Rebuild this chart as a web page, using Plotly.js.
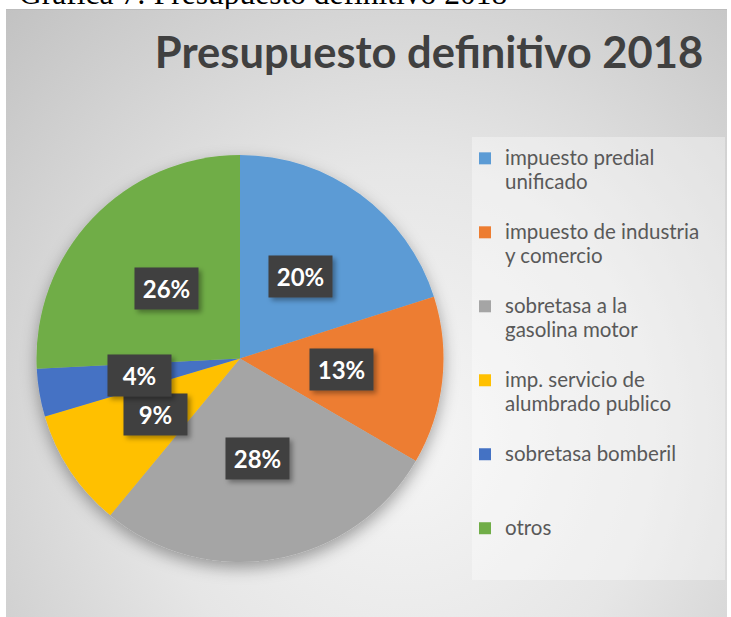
<!DOCTYPE html>
<html><head><meta charset="utf-8">
<script src="https://cdn.plot.ly/plotly-3.0.1.min.js"></script>
<style>
html,body{margin:0;padding:0;background:#fff;width:731px;height:617px;overflow:hidden;}
#cap{position:absolute;left:19px;top:-22px;font-family:"Liberation Serif","Times New Roman",serif;font-size:31.5px;line-height:31.5px;color:#000;white-space:nowrap;}
#frame{position:absolute;left:6px;top:9px;width:721px;height:608px;border-top:1px solid #bdbdbd;box-sizing:border-box;
background:radial-gradient(farthest-corner at 55% 70%, #f6f6f6 0%, #e6e6e6 45%, #c2c2c2 100%);}
#chart{position:absolute;left:0;top:0;width:721px;height:608px;}
</style></head><body>
<div id="cap">Gráfica 7: Presupuesto definitivo 2018</div>
<div id="frame"><div id="chart"></div></div>
<script>
const chartTitle = "Presupuesto definitivo 2018";
const categories = ["impuesto predial unificado", "impuesto de industria y comercio", "sobretasa a la gasolina motor", "imp. servicio de alumbrado publico", "sobretasa bomberil", "otros"];
const legendLines = [["impuesto predial", "unificado"], ["impuesto de industria", "y comercio"], ["sobretasa a la", "gasolina motor"], ["imp. servicio de", "alumbrado publico"], ["sobretasa bomberil"], ["otros"]];
const values = [20.1, 13.3, 27.6, 9.4, 3.8, 25.8];
const colors = ["#5B9BD5", "#ED7D31", "#A5A5A5", "#FFC000", "#4472C4", "#70AD47"];

const W = 721, H = 608;
const cx = 234, cy = 348.5, R = 203.5;
const domX = [(cx - R) / W, (cx + R) / W];
const domY = [1 - (cy + R) / H, 1 - (cy - R) / H];

// legend labels: three lines per entry so every entry takes the same height
const legendLabels = legendLines.map(lines => {
  const out = lines.map(t => '<span style="font-size:20.5px">' + t + '</span>');
  while (out.length < 3) out.push(' ');
  return out.join('<br>');
});

const total = values.reduce((a, b) => a + b, 0);
let cum = 0;
const annotations = values.map(v => {
  const mid = (cum + v / 2) / total * 2 * Math.PI;
  cum += v;
  return {
    xref: 'paper', yref: 'paper',
    x: (cx + 0.5 * R * Math.sin(mid)) / W,
    y: 1 - (cy - 0.5 * R * Math.cos(mid)) / H,
    xanchor: 'center', yanchor: 'middle',
    text: '<b>' + Math.round(v / total * 100) + '%</b>',
    showarrow: false,
    bgcolor: '#3f3f3f',
    width: 63, height: 41, borderpad: 0,
    font: {family: 'Lato, "Open Sans", sans-serif', size: 24, color: '#ffffff'}
  };
});

const data = [{
  type: 'pie',
  labels: legendLabels,
  values: values,
  customdata: categories,
  sort: false,
  direction: 'clockwise',
  rotation: 0,
  textinfo: 'none',
  marker: {colors: colors, line: {width: 0}},
  domain: {x: domX, y: domY},
  hoverinfo: 'none'
}];

const layout = {
  width: W, height: H,
  margin: {l: 0, r: 0, t: 0, b: 0},
  paper_bgcolor: 'rgba(0,0,0,0)',
  plot_bgcolor: 'rgba(0,0,0,0)',
  title: {
    text: '<b>' + chartTitle + '</b>',
    x: 423 / W, xanchor: 'center', xref: 'container',
    y: 1 - 43 / H, yanchor: 'middle', yref: 'container',
    font: {family: 'Lato, "Open Sans", sans-serif', size: 43.5, color: '#404040'}
  },
  showlegend: true,
  legend: {
    x: 459 / W, xanchor: 'left',
    y: 1 - 130 / H, yanchor: 'top',
    bgcolor: 'rgba(0,0,0,0)',
    valign: 'top',
    traceorder: 'normal',
    font: {family: 'Lato, "Open Sans", sans-serif', size: 18.2, color: '#595959'}
  },
  shapes: [{
    type: 'rect', xref: 'paper', yref: 'paper',
    x0: 466 / W, x1: 719 / W, y0: 1 - 570 / H, y1: 1 - 127 / H,
    fillcolor: 'rgba(255,255,255,0.35)', line: {width: 0}, layer: 'below'
  }],
  annotations: annotations
};

function addFilter(svg, id, dx, dy, sd, op) {
  const ns = 'http://www.w3.org/2000/svg';
  let defs = svg.querySelector('defs');
  if (!defs) { defs = document.createElementNS(ns, 'defs'); svg.insertBefore(defs, svg.firstChild); }
  const f = document.createElementNS(ns, 'filter');
  f.setAttribute('id', id);
  f.setAttribute('x', '-30%'); f.setAttribute('y', '-30%');
  f.setAttribute('width', '160%'); f.setAttribute('height', '160%');
  const s = document.createElementNS(ns, 'feDropShadow');
  s.setAttribute('dx', dx); s.setAttribute('dy', dy);
  s.setAttribute('stdDeviation', sd);
  s.setAttribute('flood-color', '#000'); s.setAttribute('flood-opacity', op);
  f.appendChild(s); defs.appendChild(f);
}

Plotly.newPlot('chart', data, layout, {staticPlot: true}).then(gd => {
  const svgs = gd.querySelectorAll('svg.main-svg');
  svgs.forEach((svg, i) => {
    addFilter(svg, 'pieShadow' + i, 0, 6, 8, 0.35);
    addFilter(svg, 'lblShadow' + i, 3, 3, 2.5, 0.35);
    svg.querySelectorAll('.pielayer').forEach(g => g.setAttribute('filter', 'url(#pieShadow' + i + ')'));
    svg.querySelectorAll('.annotation rect.bg').forEach(r => r.setAttribute('filter', 'url(#lblShadow' + i + ')'));
  });
});
</script>
</body></html>
